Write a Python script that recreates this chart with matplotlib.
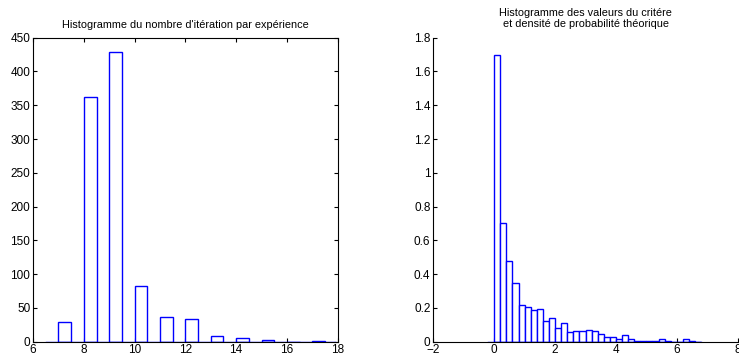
import numpy as np
import matplotlib
matplotlib.use("Agg")
import matplotlib.pyplot as plt

plt.rcParams['font.family'] = ['Liberation Sans', 'DejaVu Sans']

# left histogram: iteration counts per experiment (bar left edges, width 0.5)
iter_left = [7, 8, 9, 10, 11, 12, 13, 14, 15, 16, 17]
iter_counts = [29, 362, 429, 82, 37, 33, 9, 6, 2, 0, 1]

# right histogram: criterion values, bins of width 0.2 from 0
crit_dens = [1.70, 0.703, 0.476, 0.349, 0.219, 0.207, 0.190, 0.193, 0.122, 0.138,
             0.079, 0.113, 0.059, 0.065, 0.061, 0.071, 0.061, 0.047, 0.030, 0.030,
             0.018, 0.037, 0.018, 0.006, 0.006, 0.006, 0.006, 0.018, 0.006, 0.0,
             0.0, 0.018, 0.006, 0.0]
crit_left = np.round(np.arange(len(crit_dens)) * 0.2, 2)

BLUE = (0, 0, 1)

fig = plt.figure(figsize=(7.39, 3.58), dpi=100)

ax1 = fig.add_axes([0.0447, 0.0455, 0.4123, 0.8492])
ax1.bar(iter_left, iter_counts, width=0.5, align='edge', facecolor='white',
        edgecolor=BLUE, linewidth=1.0, zorder=2)
ax1.plot([6.5, 17.9], [0, 0], color=BLUE, lw=1.0, zorder=3)
ax1.set_xlim(6, 18)
ax1.set_ylim(0, 450)
ax1.set_xticks(range(6, 19, 2))
ax1.set_yticks(range(0, 451, 50))
ax1.tick_params(direction='in', top=True, right=True, labelsize=8.5, length=3, width=0.8, pad=2)
for s in ax1.spines.values():
    s.set_linewidth(0.8)
ax1.set_title("Histogramme du nombre d'itération par expérience", fontsize=7.8, pad=7)

ax2 = fig.add_axes([0.5863, 0.0455, 0.4120, 0.8492])
ax2.bar(crit_left, crit_dens, width=0.2, align='edge', facecolor='white',
        edgecolor=BLUE, linewidth=1.0, zorder=2)
ax2.plot([-0.2, 6.8], [0, 0], color=BLUE, lw=1.0, zorder=3)
ax2.set_xlim(-2, 8)
ax2.set_ylim(0, 1.8)
ax2.set_xticks(range(-2, 9, 2))
ax2.set_yticks(np.round(np.arange(0, 1.81, 0.2), 1))
ax2.set_yticklabels(['0', '0.2', '0.4', '0.6', '0.8', '1', '1.2', '1.4', '1.6', '1.8'])
ax2.set_xticklabels(['\u22122', '0', '2', '4', '6', '8'])
ax2.spines['top'].set_visible(False)
ax2.spines['right'].set_visible(False)
for s in ax2.spines.values():
    s.set_linewidth(0.8)
ax2.tick_params(direction='in', labelsize=8.5, length=3, width=0.8, pad=2)
ax2.set_title("Histogramme des valeurs du critére\net densité de probabilité théorique",
              fontsize=7.8, pad=8, linespacing=1.05)

fig.savefig("out.png", dpi=100)
